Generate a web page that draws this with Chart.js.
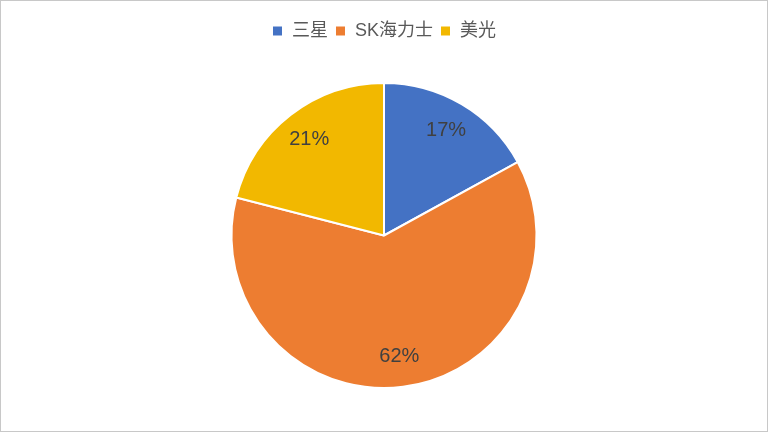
<!DOCTYPE html>
<html>
<head>
<meta charset="utf-8">
<script src="https://cdn.jsdelivr.net/npm/chart.js@4.4.1/dist/chart.umd.min.js"></script>
<style>
  html, body { margin: 0; padding: 0; background: #fff; }
  #wrap { width: 768px; height: 432px; box-sizing: border-box; border: 1px solid #c8c8c8; position: relative; }
  canvas { display: block; }
</style>
</head>
<body>
<div id="wrap"><canvas id="pieChart" width="766" height="430"></canvas></div>
<script>
// 資料
const labels = ['三星', 'SK海力士', '美光'];
const shares = [17, 62, 21];
const colors = ['#4472C4', '#ED7D31', '#F2B800'];

const fontFamily = '"Helvetica Neue", "Liberation Sans", "Noto Sans CJK TC", sans-serif';

// 扇形內的百分比文字
const pctLabels = {
  id: 'pctLabels',
  afterDatasetsDraw(chart) {
    const c = chart.ctx;
    const meta = chart.getDatasetMeta(0);
    c.save();
    c.font = '20px ' + fontFamily;
    c.fillStyle = '#404040';
    c.textAlign = 'center';
    c.textBaseline = 'middle';
    meta.data.forEach((arc, i) => {
      const p = arc.getProps(['x', 'y', 'startAngle', 'endAngle', 'outerRadius']);
      const mid = (p.startAngle + p.endAngle) / 2;
      const r = p.outerRadius * 0.8;
      c.fillText(shares[i] + '%', p.x + Math.cos(mid) * r, p.y + Math.sin(mid) * r);
    });
    c.restore();
  }
};

// 圖例下方留白
const legendGap = {
  id: 'legendGap',
  beforeInit(chart) {
    const origFit = chart.legend.fit;
    chart.legend.fit = function () {
      origFit.bind(chart.legend)();
      this.height += 32;
    };
  }
};

const ctx = document.getElementById('pieChart').getContext('2d');
const chart = new Chart(ctx, {
  type: 'pie',
  data: {
    labels: labels,
    datasets: [{
      data: shares,
      backgroundColor: colors,
      borderColor: '#ffffff',
      borderWidth: 2
    }]
  },
  options: {
    responsive: false,
    animation: false,
    layout: { padding: { top: 14, bottom: 42 } },
    plugins: {
      legend: {
        position: 'top',
        labels: {
          boxWidth: 11,
          boxHeight: 11,
          padding: 7,
          color: '#595959',
          font: { size: 18, family: fontFamily }
        }
      },
      tooltip: { enabled: false }
    }
  },
  plugins: [pctLabels, legendGap]
});
</script>
</body>
</html>
